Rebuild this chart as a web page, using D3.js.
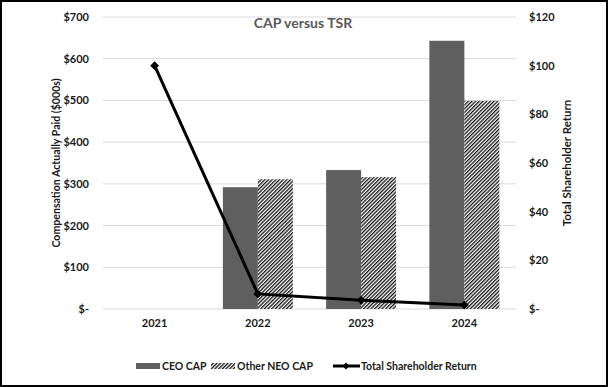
<!DOCTYPE html>
<html lang="en">
<head>
  <meta charset="UTF-8">
  <script src="https://d3js.org/d3.v7.min.js"></script>
  <title>CAP versus TSR</title>
  <style>
    body { margin: 0; background: #fff; }
    text { font-family: Lato, "Open Sans", sans-serif; }
  </style>
</head>
<body>
  <script>
    // data
    var years = ["2021", "2022", "2023", "2024"];
    var ceoCap = [null, 292, 333, 643];
    var neoCap = [null, 311, 316, 499];
    var tsr = [100, 6.2, 3.6, 1.6];
    var leftTicks = [0, 100, 200, 300, 400, 500, 600, 700];
    var rightTicks = [0, 20, 40, 60, 80, 100, 120];

    var W = 608, H = 387;
    var margin = { top: 17, right: 92, bottom: 78, left: 103 };
    var w = W - margin.left - margin.right;
    var h = H - margin.top - margin.bottom;

    var svg = d3.select("body").append("svg")
      .attr("width", W)
      .attr("height", H);

    // hatch pattern for the other NEO bars
    var defs = svg.append("defs");
    var pat = defs.append("pattern")
      .attr("id", "hatch")
      .attr("patternUnits", "userSpaceOnUse")
      .attr("width", 2.6).attr("height", 2.6)
      .attr("patternTransform", "rotate(45)");
    pat.append("rect").attr("width", 2.6).attr("height", 2.6).attr("fill", "#fff");
    pat.append("rect").attr("width", 1.3).attr("height", 2.6).attr("fill", "#111");

    svg.append("rect")
      .attr("x", 1).attr("y", 1)
      .attr("width", W - 2).attr("height", H - 2)
      .attr("fill", "#fff").attr("stroke", "#000").attr("stroke-width", 2);

    var g = svg.append("g")
      .attr("transform", "translate(" + margin.left + "," + margin.top + ")");

    var x = d3.scaleBand().domain(years).range([0, w]);
    var yL = d3.scaleLinear().domain([0, 700]).range([h, 0]);
    var yR = d3.scaleLinear().domain([0, 120]).range([h, 0]);
    var fmt = function (d) { return d === 0 ? "$-" : "$" + d; };

    // gridlines
    g.selectAll(".grid").data(leftTicks).enter().append("line")
      .attr("x1", 0).attr("x2", w)
      .attr("y1", function (d) { return yL(d); })
      .attr("y2", function (d) { return yL(d); })
      .attr("stroke", "#d9d9d9").attr("stroke-width", 1);

    // left axis
    var axL = g.append("g")
      .call(d3.axisLeft(yL).tickValues(leftTicks).tickFormat(fmt).tickSize(0).tickPadding(14));
    axL.select(".domain").remove();

    // right axis
    var axR = g.append("g")
      .attr("transform", "translate(" + w + ",0)")
      .call(d3.axisRight(yR).tickValues(rightTicks).tickFormat(fmt).tickSize(0).tickPadding(13));
    axR.select(".domain").remove();

    // x axis
    var axX = g.append("g")
      .attr("transform", "translate(0," + h + ")")
      .call(d3.axisBottom(x).tickSize(0).tickPadding(10));
    axX.select(".domain").remove();

    g.selectAll(".tick text")
      .attr("font-size", 11)
      .attr("font-weight", "bold")
      .attr("fill", "#1a1a1a");

    // bars
    var bw = 35;
    var ceoData = years.map(function (d, i) { return { year: d, v: ceoCap[i] }; })
      .filter(function (d) { return d.v != null; });
    var neoData = years.map(function (d, i) { return { year: d, v: neoCap[i] }; })
      .filter(function (d) { return d.v != null; });

    g.selectAll(".ceo").data(ceoData).enter().append("rect")
      .attr("x", function (d) { return x(d.year) + x.bandwidth() / 2 - bw; })
      .attr("y", function (d) { return yL(d.v); })
      .attr("width", bw)
      .attr("height", function (d) { return h - yL(d.v); })
      .attr("fill", "#5f5f5f");

    g.selectAll(".neo").data(neoData).enter().append("rect")
      .attr("x", function (d) { return x(d.year) + x.bandwidth() / 2; })
      .attr("y", function (d) { return yL(d.v); })
      .attr("width", bw)
      .attr("height", function (d) { return h - yL(d.v); })
      .attr("fill", "url(#hatch)");

    // TSR line
    var line = d3.line()
      .x(function (d, i) { return x(years[i]) + x.bandwidth() / 2; })
      .y(function (d) { return yR(d); });
    g.append("path").datum(tsr)
      .attr("d", line)
      .attr("fill", "none")
      .attr("stroke", "#000")
      .attr("stroke-width", 3);

    g.selectAll(".pt").data(tsr).enter().append("path")
      .attr("d", d3.symbol().type(d3.symbolDiamond2).size(50))
      .attr("transform", function (d, i) {
        return "translate(" + (x(years[i]) + x.bandwidth() / 2) + "," + yR(d) + ")";
      })
      .attr("fill", "#000");

    // title
    svg.append("text")
      .attr("x", 303).attr("y", 28)
      .attr("text-anchor", "middle")
      .attr("font-size", 14)
      .attr("font-weight", "bold")
      .attr("fill", "#595959")
      .text("CAP versus TSR");

    // axis titles
    svg.append("text")
      .attr("transform", "translate(60," + (margin.top + h / 2) + ") rotate(-90)")
      .attr("text-anchor", "middle")
      .attr("font-size", 10.6)
      .attr("font-weight", "bold")
      .attr("fill", "#1a1a1a")
      .text("Compensation Actually Paid ($000s)");

    svg.append("text")
      .attr("transform", "translate(571," + (margin.top + h / 2) + ") rotate(-90)")
      .attr("text-anchor", "middle")
      .attr("font-size", 11.5)
      .attr("font-weight", "bold")
      .attr("fill", "#1a1a1a")
      .text("Total Shareholder Return");

    // legend
    var lg = svg.append("g").attr("transform", "translate(0,366)");
    lg.append("rect").attr("x", 136).attr("y", -3).attr("width", 24).attr("height", 6).attr("fill", "#5f5f5f");
    lg.append("text").attr("x", 162).attr("y", 4).text("CEO CAP");
    lg.append("rect").attr("x", 211).attr("y", -3).attr("width", 24).attr("height", 6).attr("fill", "url(#hatch)");
    lg.append("text").attr("x", 237).attr("y", 4).text("Other NEO CAP");
    lg.append("line").attr("x1", 333).attr("x2", 360).attr("y1", 0).attr("y2", 0)
      .attr("stroke", "#000").attr("stroke-width", 3);
    lg.append("path").attr("d", d3.symbol().type(d3.symbolDiamond2).size(30))
      .attr("transform", "translate(346,0)").attr("fill", "#000");
    lg.append("text").attr("x", 361).attr("y", 4).text("Total Shareholder Return");
    lg.selectAll("text")
      .attr("font-size", 10.5)
      .attr("font-weight", "bold")
      .attr("fill", "#1a1a1a");
  </script>
</body>
</html>
